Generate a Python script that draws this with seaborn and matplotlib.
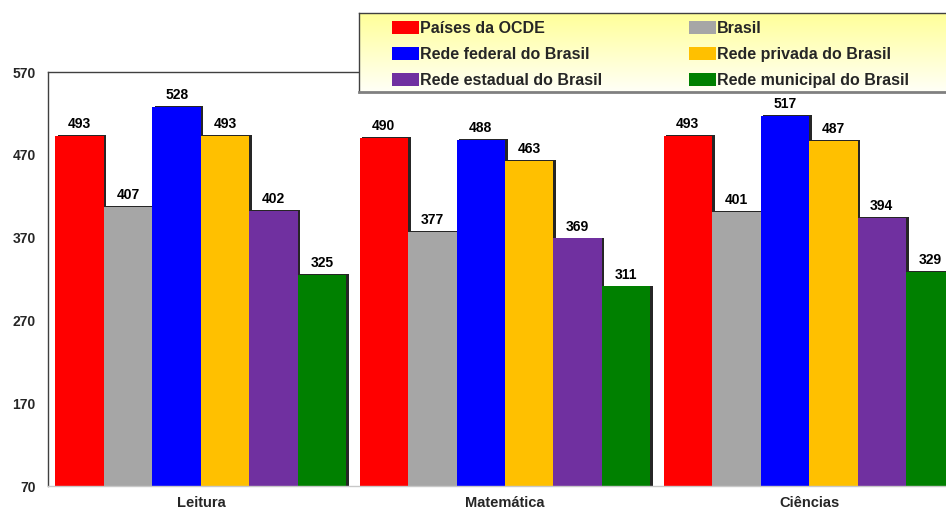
import numpy as np
import pandas as pd
import matplotlib
matplotlib.use("Agg")
import matplotlib.pyplot as plt
import matplotlib.patheffects as pe
from matplotlib.patches import Patch
import seaborn as sns

# PISA-style scores by subject and school network
subjects = ["Leitura", "Matemática", "Ciências"]
series = ["Países da OCDE", "Brasil", "Rede federal do Brasil",
          "Rede privada do Brasil", "Rede estadual do Brasil",
          "Rede municipal do Brasil"]
ocde = [493, 490, 493]
brasil = [407, 377, 401]
federal = [528, 488, 517]
privada = [493, 463, 487]
estadual = [402, 369, 394]
municipal = [325, 311, 329]
colors = ["#FF0000", "#A6A6A6", "#0000FF", "#FFC000", "#7030A0", "#008000"]
yticks = [70, 170, 270, 370, 470, 570]

values = [ocde, brasil, federal, privada, estadual, municipal]
df = pd.DataFrame(
    [(subj, name, vals[i]) for name, vals in zip(series, values)
     for i, subj in enumerate(subjects)],
    columns=["Área", "Rede", "Pontuação"],
)

sns.set_theme(style="white")
plt.rcParams["font.family"] = ["Liberation Sans", "DejaVu Sans"]
plt.rcParams["font.weight"] = "bold"

fig = plt.figure(figsize=(9.46, 5.08), dpi=100)
ax = fig.add_axes([48 / 946, 22 / 508, 914 / 946, 414 / 508])

sns.barplot(data=df, x="Área", y="Pontuação", hue="Rede", order=subjects,
            hue_order=series, palette=colors, width=0.957, gap=0,
            saturation=1, ax=ax, legend=False, linewidth=0)

shadow = [pe.SimplePatchShadow(offset=(1.8, 0.6), shadow_rgbFace="black",
                               alpha=0.85), pe.Normal()]
for patch in ax.patches:
    patch.set_path_effects(shadow)

for cont in ax.containers:
    ax.bar_label(cont, fmt="%d", padding=3.5, fontsize=10, fontweight="bold",
                 color="black")

ax.set_ylim(70, 570)
ax.set_xlim(-0.503, 2.503)
ax.set_yticks(yticks)
ax.set_yticklabels([str(t) for t in yticks], fontsize=10, fontweight="bold")
ax.set_xticklabels(subjects, fontsize=10.5, fontweight="bold")
ax.tick_params(axis="both", length=0)
ax.tick_params(axis="y", pad=9)
ax.tick_params(axis="x", pad=7)
ax.set_xlabel("")
ax.set_ylabel("")
ax.spines["left"].set_color("#404040")
ax.spines["top"].set_color("#404040")
ax.spines["bottom"].set_color("#C8C8C8")
ax.spines["right"].set_visible(False)
for s in ["left", "top", "bottom"]:
    ax.spines[s].set_linewidth(1.0)

# legend panel with pale yellow gradient
lax = fig.add_axes([359 / 946, 1 - 92 / 508, 600 / 946, 79 / 508], zorder=5)
grad = np.linspace(0, 1, 256).reshape(-1, 1)
top = np.array([1.0, 1.0, 0.60])
bottom = np.array([1.0, 1.0, 0.97])
img = top + (bottom - top) * grad[..., None]
lax.imshow(img, aspect="auto", extent=[0, 1, 0, 1], origin="upper")
lax.set_xticks([])
lax.set_yticks([])
for s in lax.spines.values():
    s.set_color("#404040")
    s.set_linewidth(1.0)
lax.spines["bottom"].set_color("#808080")
lax.spines["bottom"].set_linewidth(2.0)

handles = {name: Patch(facecolor=c, edgecolor="none")
           for name, c in zip(series, colors)}
order = [series[0], series[2], series[4], series[1], series[3], series[5]]
leg = fig.legend([handles[n] for n in order], order, ncol=2,
                 loc="upper left", bbox_to_anchor=(392 / 946, 1 - 21 / 508),
                 frameon=False, handlelength=1.69,
                 handleheight=0.88, handletextpad=0.06, columnspacing=5.45,
                 labelspacing=0.7, borderpad=0, borderaxespad=0,
                 prop={"weight": "bold", "size": 11.5})
leg.set_zorder(6)

fig.savefig("out.png", dpi=100)
